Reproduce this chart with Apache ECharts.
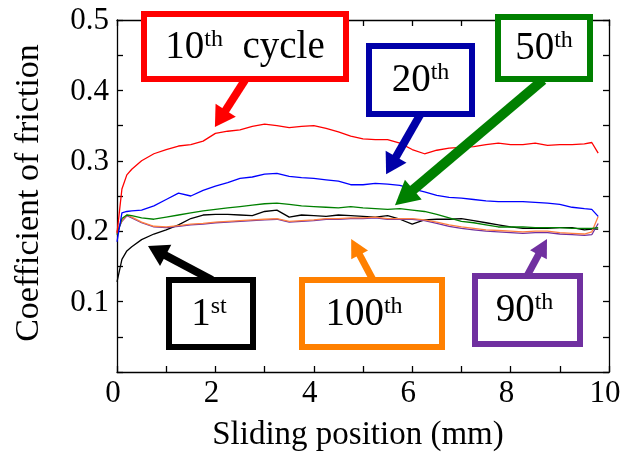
<!DOCTYPE html>
<html><head><meta charset="utf-8">
<script src="https://cdn.jsdelivr.net/npm/echarts@6/dist/echarts.min.js"></script>
<style>html,body{margin:0;padding:0;background:#fff}#c{width:624px;height:461px}</style>
</head><body><div id="c"></div>
<script>
// ---- data ----
const positions = [0,0.1,0.2,0.3,0.5,0.75,1.0,1.25,1.5,1.75,2.0,2.25,2.5,2.75,3.0,3.25,3.5,3.75,4.0,4.25,4.5,4.75,5.0,5.25,5.5,5.75,6.0,6.25,6.5,6.75,7.0,7.25,7.5,7.75,8.0,8.25,8.5,8.75,9.0,9.25,9.5,9.65,9.78];
const cycle1   = [0.128,0.160,0.172,0.178,0.188,0.196,0.202,0.209,0.218,0.223,0.224,0.224,0.223,0.222,0.228,0.230,0.220,0.223,0.222,0.221,0.223,0.222,0.221,0.220,0.222,0.217,0.210,0.216,0.217,0.217,0.218,0.215,0.212,0.209,0.206,0.204,0.204,0.204,0.205,0.205,0.202,0.203,0.203];
const cycle10  = [0.197,0.260,0.280,0.288,0.300,0.310,0.316,0.321,0.323,0.328,0.339,0.342,0.344,0.349,0.352,0.350,0.347,0.349,0.350,0.346,0.341,0.335,0.331,0.330,0.330,0.325,0.316,0.310,0.315,0.318,0.319,0.320,0.323,0.325,0.323,0.323,0.325,0.322,0.323,0.323,0.324,0.326,0.311];
const cycle20  = [0.185,0.226,0.228,0.229,0.230,0.236,0.245,0.254,0.250,0.258,0.264,0.269,0.275,0.277,0.281,0.282,0.278,0.276,0.275,0.273,0.271,0.266,0.266,0.268,0.267,0.265,0.260,0.256,0.251,0.248,0.247,0.245,0.243,0.242,0.242,0.242,0.241,0.240,0.238,0.234,0.232,0.231,0.221];
const cycle50  = [0.195,0.218,0.223,0.222,0.219,0.217,0.220,0.223,0.226,0.229,0.231,0.233,0.235,0.237,0.239,0.240,0.238,0.236,0.235,0.234,0.233,0.235,0.233,0.232,0.231,0.232,0.230,0.228,0.224,0.219,0.214,0.212,0.209,0.206,0.206,0.206,0.205,0.205,0.205,0.204,0.204,0.204,0.205];
const cycle90  = [0.199,0.214,0.222,0.219,0.212,0.206,0.205,0.207,0.209,0.210,0.212,0.213,0.214,0.215,0.216,0.217,0.213,0.214,0.215,0.217,0.217,0.218,0.218,0.219,0.217,0.217,0.217,0.215,0.211,0.207,0.204,0.202,0.200,0.199,0.198,0.197,0.198,0.198,0.196,0.195,0.194,0.195,0.211];
const cycle100 = [0.200,0.215,0.223,0.220,0.213,0.207,0.206,0.208,0.210,0.211,0.213,0.214,0.215,0.216,0.217,0.218,0.214,0.215,0.216,0.218,0.218,0.219,0.219,0.220,0.218,0.218,0.218,0.216,0.213,0.209,0.206,0.204,0.202,0.201,0.200,0.199,0.200,0.200,0.198,0.197,0.196,0.199,0.221];
const xTicks = [0,2,4,6,8,10];
const yTicks = [0.1,0.2,0.3,0.4,0.5];
const xTitle = 'Sliding position (mm)';
const yTitle = 'Coefficient of friction';
// annotation labels and arrow tips (data coords)
const annMain = ['10','20','50','1','100','90'];
const annSup  = ['th','th','th','st','th','th'];
const annTail = ['  cycle','','','','',''];
const annTipX = [1.99,5.47,5.65,0.63,4.76,8.74];
const annTipY = [0.348,0.281,0.237,0.179,0.189,0.189];

// ---- styles / layout ----
const FONT = 'Liberation Serif';
const annColor = ['#ff0000','#0000a8','#008000','#000000','#ff8000','#7030a0'];
const annBox = [[144,14,202,65],[369,46,103,68],[498,17,92,62],[169,280,84,67],[302,280,140,67],[475,276,105,68]];
const annTailPt = [[245,80],[420,115],[543,80],[212,280],[373,280],[527,276]];
const annShaft = [8,8,10,8,7,7];
const annHead = [[20,24],[20,24],[24,26],[20,24],[18,19],[18,19]];
const annTextDx = [0,0,0,-2,-8,-3];

function pairs(ys){ return positions.map((x,i)=>[x, ys[i]]); }
const chart = echarts.init(document.getElementById('c'), null, {renderer:'canvas'});
function mkLine(name, ys, color){
  return {name, type:'line', data:pairs(ys), showSymbol:false, smooth:false, xAxisIndex:0, yAxisIndex:0,
    lineStyle:{color, width:1.3}, itemStyle:{color}, z:2, animation:false};
}
const axisLineStyle = {color:'#000', width:1.3};
function axisCommon(extra){
  return Object.assign({
    axisLine:{show:true, onZero:false, lineStyle:axisLineStyle},
    axisTick:{show:true, inside:true, length:6, lineStyle:axisLineStyle},
    splitLine:{show:false}, axisLabel:{show:false}}, extra);
}
chart.setOption({
  animation:false,
  backgroundColor:'#fff',
  grid:{left:117, right:15, top:20, bottom:89, containLabel:false},
  xAxis:[axisCommon({type:'value', min:0, max:10, interval:1, position:'bottom'}),
         axisCommon({type:'value', min:0, max:10, interval:1, position:'top'})],
  yAxis:[axisCommon({type:'value', min:0, max:0.5, interval:0.05, position:'left'}),
         axisCommon({type:'value', min:0, max:0.5, interval:0.05, position:'right'})],
  series:[
    mkLine('1st', cycle1, '#000000'),
    mkLine('90th', cycle90, '#7030a0'),
    mkLine('100th', cycle100, '#ff8040'),
    mkLine('50th', cycle50, '#008000'),
    mkLine('20th', cycle20, '#0000ff'),
    mkLine('10th', cycle10, '#ff0000')
  ]
});

const g = [];
// tick labels placed through the axis scales
const origin = chart.convertToPixel({gridIndex:0}, [0, 0]);
const corner = chart.convertToPixel({gridIndex:0}, [10, 0.5]);
xTicks.forEach(v=>{
  const p = chart.convertToPixel({gridIndex:0}, [v, 0]);
  g.push({type:'text', z:5, x:p[0]-4, y:p[1]+6,
    style:{text:String(v), font:'31px '+FONT, fill:'#000', align:'center', verticalAlign:'top'}});
});
yTicks.forEach(v=>{
  const p = chart.convertToPixel({gridIndex:0}, [0, v]);
  g.push({type:'text', z:5, x:p[0]-8, y:p[1]+1,
    style:{text:v.toFixed(1), font:'31px '+FONT, fill:'#000', align:'right', verticalAlign:'middle'}});
});
// axis titles
g.push({type:'text', z:5, x:(origin[0]+corner[0])/2-5, y:origin[1]+47,
  style:{text:xTitle, font:'33px '+FONT, fill:'#000', align:'center', verticalAlign:'top'}});
g.push({type:'text', z:5, x:29, y:(origin[1]+corner[1])/2 - 3, rotation:Math.PI/2,
  style:{text:yTitle, font:'34px '+FONT, fill:'#000', align:'center', verticalAlign:'middle'}});

// annotations: arrows (tips via axis scale) + boxes
for (let i=0;i<annMain.length;i++){
  const tip = chart.convertToPixel({gridIndex:0}, [annTipX[i], annTipY[i]]);
  const t = annTailPt[i];
  const dx = tip[0]-t[0], dy = tip[1]-t[1];
  const L = Math.hypot(dx,dy); const ux=dx/L, uy=dy/L; const nx=-uy, ny=ux;
  const [hl, hw] = annHead[i];
  const bx = tip[0]-ux*hl, by = tip[1]-uy*hl;
  g.push({type:'line', z:10, shape:{x1:t[0], y1:t[1], x2:bx+ux*2, y2:by+uy*2},
    style:{stroke:annColor[i], lineWidth:annShaft[i]}});
  g.push({type:'polygon', z:10, shape:{points:[[tip[0],tip[1]],[bx+nx*hw/2, by+ny*hw/2],[bx-nx*hw/2, by-ny*hw/2]]},
    style:{fill:annColor[i]}});
  const b = annBox[i];
  g.push({type:'rect', z:11, shape:{x:b[0], y:b[1], width:b[2], height:b[3]},
    style:{fill:'#fff', stroke:annColor[i], lineWidth:6, lineJoin:'miter'}});
  g.push({type:'text', z:12, x:b[0]+b[2]/2+annTextDx[i], y:b[1]+b[3]/2+1,
    style:{text:'{b|'+annMain[i]+'}{s|'+annSup[i]+'}'+(annTail[i]?'{b|'+annTail[i]+'}':''),
      align:'center', verticalAlign:'middle', fill:'#000', font:'39px '+FONT,
      rich:{b:{fontFamily:FONT, fontSize:39, lineHeight:40, fill:'#000'},
            s:{fontFamily:FONT, fontSize:24, lineHeight:24, verticalAlign:'top', fill:'#000'}}}});
}
chart.setOption({graphic:g});
</script></body></html>
